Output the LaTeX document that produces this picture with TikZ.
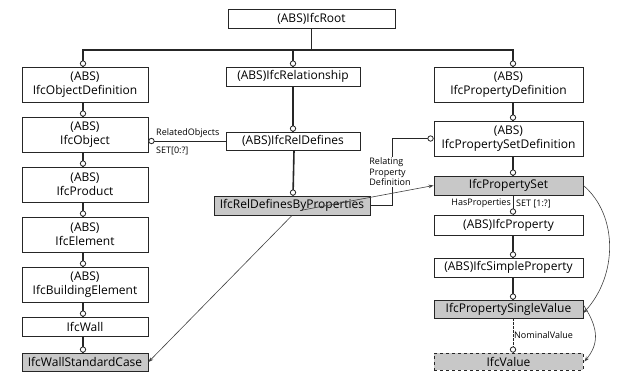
\documentclass[tikz,border=0pt]{standalone}
\usepackage{fontspec}
\setmainfont{Open Sans}
\usetikzlibrary{arrows.meta}
\definecolor{boxgray}{RGB}{200,200,200}
\tikzset{
  cls/.style={draw=black!85, line width=0.9pt, inner sep=0pt, align=center, font=\fontsize{12}{14}\selectfont},
  gbox/.style={cls, fill=boxgray},
  inh/.style={line width=1.6pt, black!85},
  ring/.style={draw=black!85, line width=0.8pt, fill=white},
  thinarrow/.style={line width=0.6pt, black!75, -{Stealth[length=5pt,width=3.6pt]}},
  lbl/.style={font=\fontsize{9}{10.5}\selectfont, inner sep=1pt}
}
\begin{document}
\begin{tikzpicture}[x=1pt,y=-1pt]
\useasboundingbox (0,0) rectangle (617,376);
% nodes
\node[cls, minimum width=167, minimum height=19] (root) at (311.5,18.5) {(ABS)IfcRoot};
\node[cls, minimum width=126, minimum height=35] (objdef) at (85,84.5) {(ABS)\\IfcObjectDefinition};
\node[cls, minimum width=134, minimum height=19] (rel) at (293,76.5) {(ABS)IfcRelationship};
\node[cls, minimum width=149, minimum height=35] (propdef) at (508.5,84.5) {(ABS)\\IfcPropertyDefinition};
\node[cls, minimum width=126, minimum height=35] (obj) at (85,134.5) {(ABS)\\IfcObject};
\node[cls, minimum width=134, minimum height=18] (reldef) at (293,141) {(ABS)IfcRelDefines};
\node[cls, minimum width=149, minimum height=35] (psetdef) at (508.5,138.5) {(ABS)\\IfcPropertySetDefinition};
\node[cls, minimum width=126, minimum height=35] (prod) at (85,184.5) {(ABS)\\IfcProduct};
\node[gbox, minimum width=156, minimum height=19] (rdbp) at (292,205.5) {IfcRelDefinesByProperties};
\node[gbox, minimum width=149, minimum height=19] (pset) at (508.5,185.5) {IfcPropertySet};
\node[cls, minimum width=126, minimum height=35] (elem) at (85,234.5) {(ABS)\\IfcElement};
\node[cls, minimum width=149, minimum height=20] (prop) at (508.5,225) {(ABS)IfcProperty};
\node[cls, minimum width=126, minimum height=35] (bldg) at (85,284.5) {(ABS)\\IfcBuildingElement};
\node[cls, minimum width=149, minimum height=19] (simple) at (508.5,267.5) {(ABS)IfcSimpleProperty};
\node[cls, minimum width=126, minimum height=19] (wall) at (85,326.5) {IfcWall};
\node[gbox, minimum width=149, minimum height=18] (psv) at (508.5,309) {IfcPropertySingleValue};
\node[gbox, minimum width=126, minimum height=18] (wsc) at (85,362) {IfcWallStandardCase};
\node[gbox, dashed, minimum width=149, minimum height=17] (val) at (508.5,361.5) {IfcValue};
% inheritance tree from root
\coordinate (busL) at (83,50);
\coordinate (busR) at (513,50);
\draw[inh] (root.south) -- (root.south |- busL);
\draw[inh] ([xshift=-2]objdef.north) |- (busL) -- (busR) -- ([xshift=4.5]propdef.north);
\draw[inh] (rel.north) -- (rel.north |- busL);
\foreach \n/\dx in {objdef/-2, rel/0, propdef/4.5}
  \draw[ring] ([xshift=\dx,yshift=3]\n.north) circle (2.7);
% vertical chains
\foreach \a/\b/\dx in {objdef/obj/-2, obj/prod/-2, prod/elem/-2, elem/bldg/-2, bldg/wall/-2, wall/wsc/-2,
                       rel/reldef/0, reldef/rdbp/1,
                       propdef/psetdef/4.5, psetdef/pset/4.5, prop/simple/4.5, simple/psv/4.5}{
  \draw[inh] ([xshift=\dx]\a.south) -- ([xshift=\dx]\b.north);
  \draw[ring] ([xshift=\dx,yshift=3]\b.north) circle (2.7);
}
% HasProperties
\draw[line width=0.7pt, black!85] ([xshift=4.5]pset.south) -- ([xshift=4.5]prop.north);
\draw[ring] ([xshift=4.5,yshift=3]prop.north) circle (2.7);
\node[lbl, anchor=east] at (512,203.5) {HasProperties};
\node[lbl, anchor=west] at (515,203.5) {SET [1:?]};
% NominalValue
\draw[line width=0.7pt, black!85, dash pattern=on 2.5pt off 1.5pt] ([xshift=4.5]psv.south) -- ([xshift=4.5]val.north);
\draw[ring] ([xshift=4.5,yshift=3]val.north) circle (2.7);
\node[lbl, anchor=west] at (513,335) {NominalValue};
% RelatedObjects
\coordinate (roEnd) at (reldef.west -| obj.east);
\draw[line width=0.9pt, black!85] (reldef.west) -- ([xshift=3]roEnd);
\draw[ring] ([xshift=3]roEnd) circle (2.7);
\node[lbl, anchor=south west] at (155,138.5) {RelatedObjects};
\node[lbl, anchor=north west] at (155,145.5) {SET[0:?]};
% RelatingPropertyDefinition
\coordinate (rpdB) at (392,205.5);
\coordinate (rpdT) at (392,138.5);
\draw[line width=0.9pt, black!85] (rdbp.east) -- (rpdB) -- (rpdT) -- ([xshift=-3]psetdef.west);
\draw[ring] ([xshift=-3]psetdef.west) circle (2.7);
\node[lbl, fill=white, align=left, inner sep=1.5pt] at (390,172) {Relating\\Property\\Definition};
% thin arrows
\coordinate (rdbpStart) at (300,210.5);
\draw[thinarrow] (rdbpStart) -- (pset.west);
\draw[thinarrow] (rdbp.south) -- (wsc.east);
\draw[thinarrow] (pset.east) .. controls (618,215) and (618,275) .. ([yshift=-4]psv.east);
\draw[thinarrow] ([yshift=4]psv.east) .. controls (600,330) and (598,345) .. ([xshift=1]val.east);
\end{tikzpicture}
\end{document}
